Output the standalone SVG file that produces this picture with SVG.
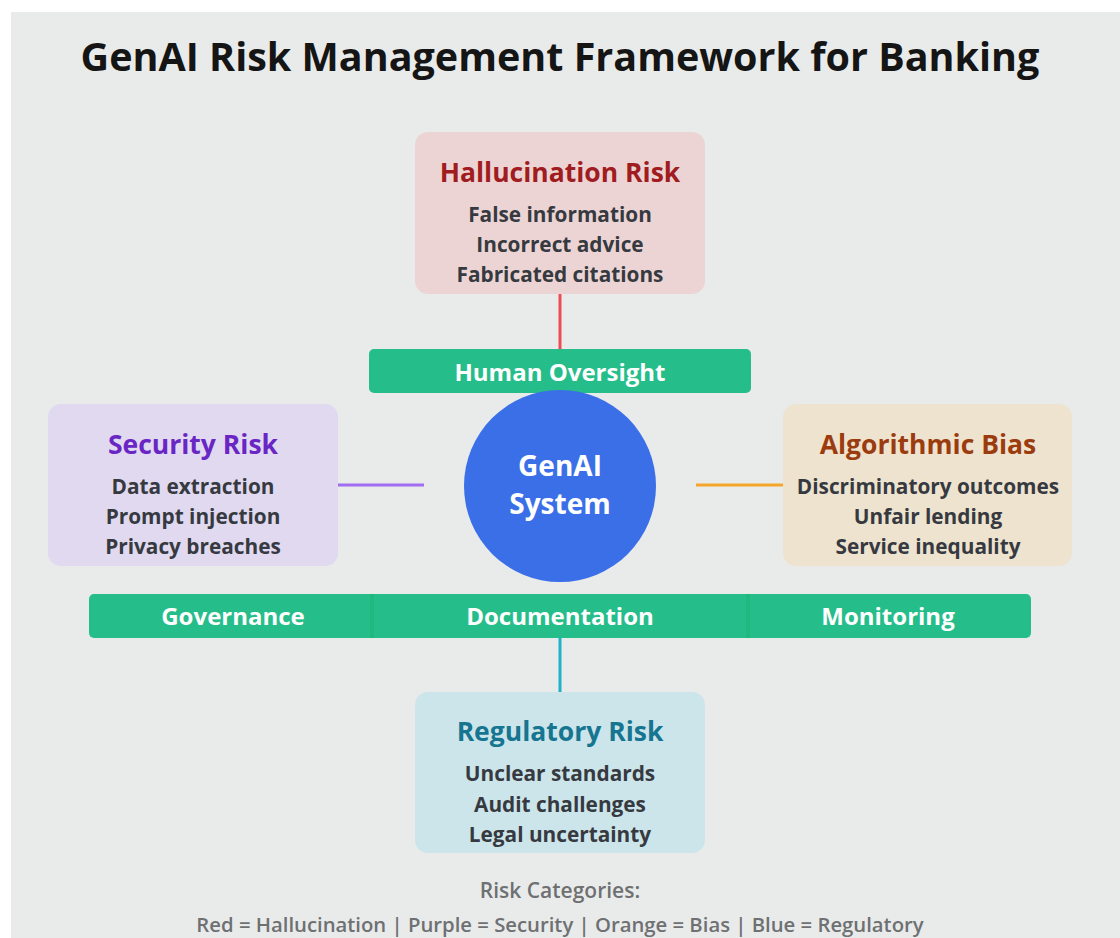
<svg xmlns="http://www.w3.org/2000/svg" width="1120" height="938" viewBox="0 0 1120 938">
  <style>
    text { font-family: "Open Sans", "Noto Sans", "Liberation Sans", sans-serif; text-anchor: middle; font-weight: 700; }
    .title { font-size: 39.5px; fill: #151515; }
    .head { font-size: 26.5px; }
    .item { font-size: 20.8px; fill: #363a40; }
    .bar { fill: #25bd8a; }
    .bar-text { font-size: 24px; fill: #ffffff; }
    .core-text { font-size: 28px; fill: #ffffff; }
    .legend { font-size: 21px; fill: #6e7072; font-weight: 600; }
    .link { stroke-width: 3; fill: none; }
  </style>

  <!-- canvas -->
  <rect x="0" y="0" width="1120" height="938" fill="#ffffff"/>
  <rect x="11" y="12" width="1109" height="926" fill="#e9ebea"/>

  <text class="title" x="560" y="71">GenAI Risk Management Framework for Banking</text>

  <!-- connectors -->
  <g id="connectors">
    <line class="link" x1="560" y1="294" x2="560" y2="349" stroke="#ef4b55"/>
    <line class="link" x1="338" y1="485" x2="424" y2="485" stroke="#a06cf2"/>
    <line class="link" x1="696" y1="485" x2="783" y2="485" stroke="#f5a52a"/>
    <line class="link" x1="560" y1="638" x2="560" y2="692" stroke="#1fb1c9"/>
  </g>

  <!-- control layers -->
  <g id="human-oversight">
    <rect class="bar" x="369" y="349" width="382" height="44" rx="5"/>
    <text class="bar-text" x="560" y="381">Human Oversight</text>
  </g>

  <g id="controls">
    <rect class="bar" x="89" y="594" width="942" height="44" rx="5"/>
    <rect x="370" y="594" width="4" height="44" fill="#1db97f"/>
    <rect x="746" y="594" width="4" height="44" fill="#1db97f"/>
    <text class="bar-text" x="233" y="625">Governance</text>
    <text class="bar-text" x="560" y="625">Documentation</text>
    <text class="bar-text" x="888" y="625">Monitoring</text>
  </g>

  <!-- central system -->
  <g id="genai-system">
    <circle cx="560" cy="486" r="96" fill="#3a6fe8"/>
    <text class="core-text" x="560" y="476">GenAI</text>
    <text class="core-text" x="560" y="514">System</text>
  </g>

  <!-- risk categories -->
  <g id="hallucination-risk">
    <rect x="415" y="132" width="290" height="162" rx="13" fill="#ecd4d4"/>
    <text class="head" x="560" y="182" fill="#a01c1f">Hallucination Risk</text>
    <text class="item" x="560" y="222">False information</text>
    <text class="item" x="560" y="252">Incorrect advice</text>
    <text class="item" x="560" y="282">Fabricated citations</text>
  </g>

  <g id="security-risk">
    <rect x="48" y="404" width="290" height="162" rx="13" fill="#e0d9f0"/>
    <text class="head" x="193" y="454" fill="#6a26c4">Security Risk</text>
    <text class="item" x="193" y="494">Data extraction</text>
    <text class="item" x="193" y="524">Prompt injection</text>
    <text class="item" x="193" y="554">Privacy breaches</text>
  </g>

  <g id="algorithmic-bias">
    <rect x="783" y="404" width="289" height="162" rx="13" fill="#eee3cf"/>
    <text class="head" x="928" y="454" fill="#9b3c0e">Algorithmic Bias</text>
    <text class="item" x="928" y="494">Discriminatory outcomes</text>
    <text class="item" x="928" y="524">Unfair lending</text>
    <text class="item" x="928" y="554">Service inequality</text>
  </g>

  <g id="regulatory-risk">
    <rect x="415" y="692" width="290" height="161" rx="13" fill="#cce5ea"/>
    <text class="head" x="560" y="741" fill="#167590">Regulatory Risk</text>
    <text class="item" x="560" y="781">Unclear standards</text>
    <text class="item" x="560" y="812">Audit challenges</text>
    <text class="item" x="560" y="842">Legal uncertainty</text>
  </g>

  <!-- legend -->
  <g id="legend">
    <text class="legend" x="560" y="898">Risk Categories:</text>
    <text class="legend" x="560" y="932" style="font-size:20.3px">Red = Hallucination | Purple = Security | Orange = Bias | Blue = Regulatory</text>
  </g>
</svg>
